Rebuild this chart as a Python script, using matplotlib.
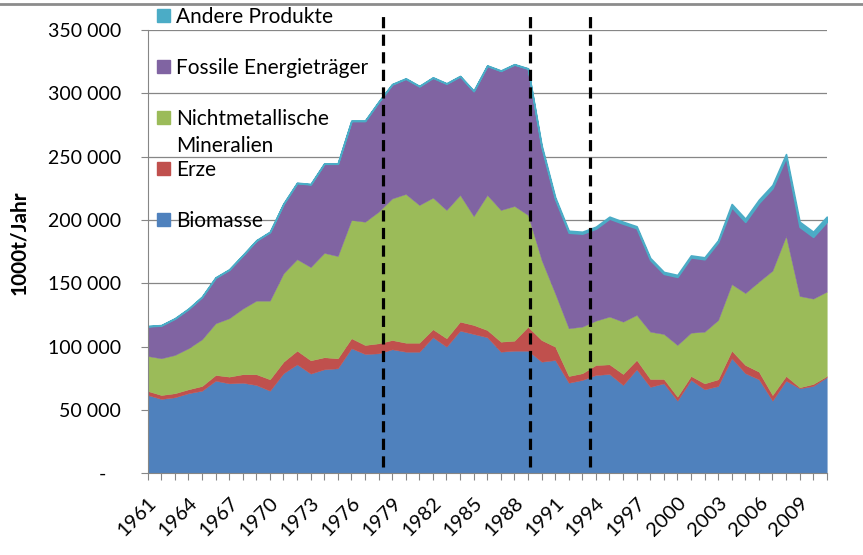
import matplotlib.pyplot as plt
import numpy as np
from matplotlib.lines import Line2D
from matplotlib.patches import Patch
from matplotlib.ticker import FuncFormatter

plt.rcParams['font.family'] = ['Lato', 'DejaVu Sans']

jahre = list(range(1961, 2012))

# Werte in 1000 x 1000t/Jahr
biomasse = [61.8, 58.7, 60.0, 63.2, 65.2, 73.1, 71.0, 71.5, 69.7, 65.2,
            79.0, 86.0, 78.7, 82.1, 82.9, 98.7, 94.2, 94.7, 97.9, 96.0,
            96.0, 107.4, 100.0, 112.6, 110.0, 107.4, 96.0, 96.8, 96.8, 88.1,
            89.4, 71.5, 73.7, 77.6, 78.4, 69.7, 82.1, 68.2, 71.0, 57.3,
            73.7, 66.3, 68.9, 90.8, 79.0, 74.2, 57.3, 73.1, 67.1, 68.9, 75.8]
erze = [3.2, 3.1, 3.2, 3.1, 3.7, 4.5, 5.3, 6.7, 8.5, 9.0,
        9.1, 10.8, 10.5, 9.5, 7.9, 7.9, 7.1, 7.9, 7.3, 7.1,
        7.1, 6.3, 6.6, 7.1, 7.1, 5.7, 7.9, 7.9, 18.9, 17.1,
        10.6, 5.3, 5.3, 7.9, 7.6, 8.7, 7.4, 6.3, 3.5, 3.2,
        3.1, 4.7, 5.3, 6.0, 6.5, 6.0, 4.5, 3.7, 0.8, 1.6, 1.0]
nichtmetallisch = [27.6, 29.0, 30.2, 32.4, 36.9, 40.8, 46.1, 51.8, 58.1, 62.1,
                   69.8, 72.2, 73.6, 82.4, 80.7, 93.4, 97.3, 103.9, 111.8, 117.4,
                   108.7, 103.9, 101.3, 100.0, 85.9, 106.6, 104.0, 106.3, 88.3, 63.2,
                   42.0, 37.7, 36.8, 35.0, 37.7, 41.3, 35.5, 37.3, 35.5, 40.8,
                   34.2, 40.8, 46.8, 52.5, 56.8, 71.1, 98.2, 110.5, 72.1, 67.4, 66.6]
fossil = [23.4, 25.9, 28.7, 31.0, 33.4, 36.0, 38.3, 42.0, 47.4, 54.1,
          54.8, 60.1, 65.3, 70.4, 72.9, 78.1, 79.5, 86.6, 90.0, 91.0,
          93.7, 94.7, 99.7, 93.7, 98.7, 102.0, 109.8, 111.7, 115.4, 89.1,
          74.5, 75.5, 73.4, 72.7, 77.4, 77.4, 68.5, 56.7, 47.5, 53.8,
          59.5, 57.2, 61.5, 60.8, 56.2, 62.2, 65.1, 62.2, 54.6, 48.8, 55.2]
andere = [0.3] * 29 + [1.5] * 14 + [2.5] * 5 + [4.0] * 3

kategorien = ["Biomasse", "Erze", "Nichtmetallische", "Fossile Energieträger", "Andere Produkte"]
farben = ["#4F81BD", "#C0504D", "#9BBB59", "#8064A2", "#4BACC6"]
markierungen = [1978.3, 1989.15, 1993.6]

werte = [np.array(s) * 1000 for s in (biomasse, erze, nichtmetallisch, fossil, andere)]

fig = plt.figure(figsize=(8.63, 5.55), dpi=100)
ax = fig.add_axes([0.1711, 0.1472, 0.7869, 0.7988])

flaechen = ax.stackplot(jahre, *werte, colors=farben, linewidth=0.3)
for f, c in zip(flaechen, farben):
    f.set_edgecolor(c)
flaechen[-1].set_linewidth(1.2)

ax.set_xlim(1961, 2011)
ax.set_ylim(0, 350000)

grau = '#868686'
ax.set_yticks(np.arange(0, 350001, 50000))
ax.yaxis.set_major_formatter(FuncFormatter(
    lambda v, p: "-   " if v == 0 else f"{int(v):,}".replace(",", " ")))
ax.grid(axis='y', color=grau, linewidth=0.9)
ax.set_axisbelow(True)

ax.set_xticks(jahre)
ax.set_xticklabels([str(j) if (j - 1961) % 3 == 0 else "" for j in jahre],
                   rotation=45, ha='right', rotation_mode='anchor')

ax.tick_params(axis='both', colors=grau, labelcolor='black', labelsize=14, length=5)
ax.tick_params(axis='y', pad=14)
ax.tick_params(axis='x', pad=10, labelsize=14.5)
for s in ('top', 'right'):
    ax.spines[s].set_visible(False)
for s in ('left', 'bottom'):
    ax.spines[s].set_color(grau)

ax.set_ylabel("1000t/Jahr", fontweight='bold', fontsize=15)
ax.yaxis.set_label_coords(-0.175, 0.52)

ax.vlines(markierungen, 5000, 364000, colors='black', linestyles=(0, (3.5, 2)),
          linewidth=2.3, clip_on=False, zorder=5)

griffe = [Patch(color=c) for c in reversed(farben)]
leg = fig.legend(griffe, list(reversed(kategorien)), loc='upper left',
                 bbox_to_anchor=(0.182, 0.988), frameon=False, fontsize=15,
                 handlelength=0.6, handleheight=0.6, handletextpad=0.3,
                 labelspacing=1.49, borderpad=0, borderaxespad=0)
ax.annotate("Mineralien", xy=(0, 0), xycoords=leg.get_texts()[2],
            xytext=(0, -27), textcoords='offset pixels', va='bottom', ha='left',
            fontsize=15)

fig.add_artist(Line2D([0, 1], [0.993, 0.993], transform=fig.transFigure,
                      color='#8c8c8c', linewidth=2))

fig.canvas.draw()
fig.savefig("out.png", dpi=100)
